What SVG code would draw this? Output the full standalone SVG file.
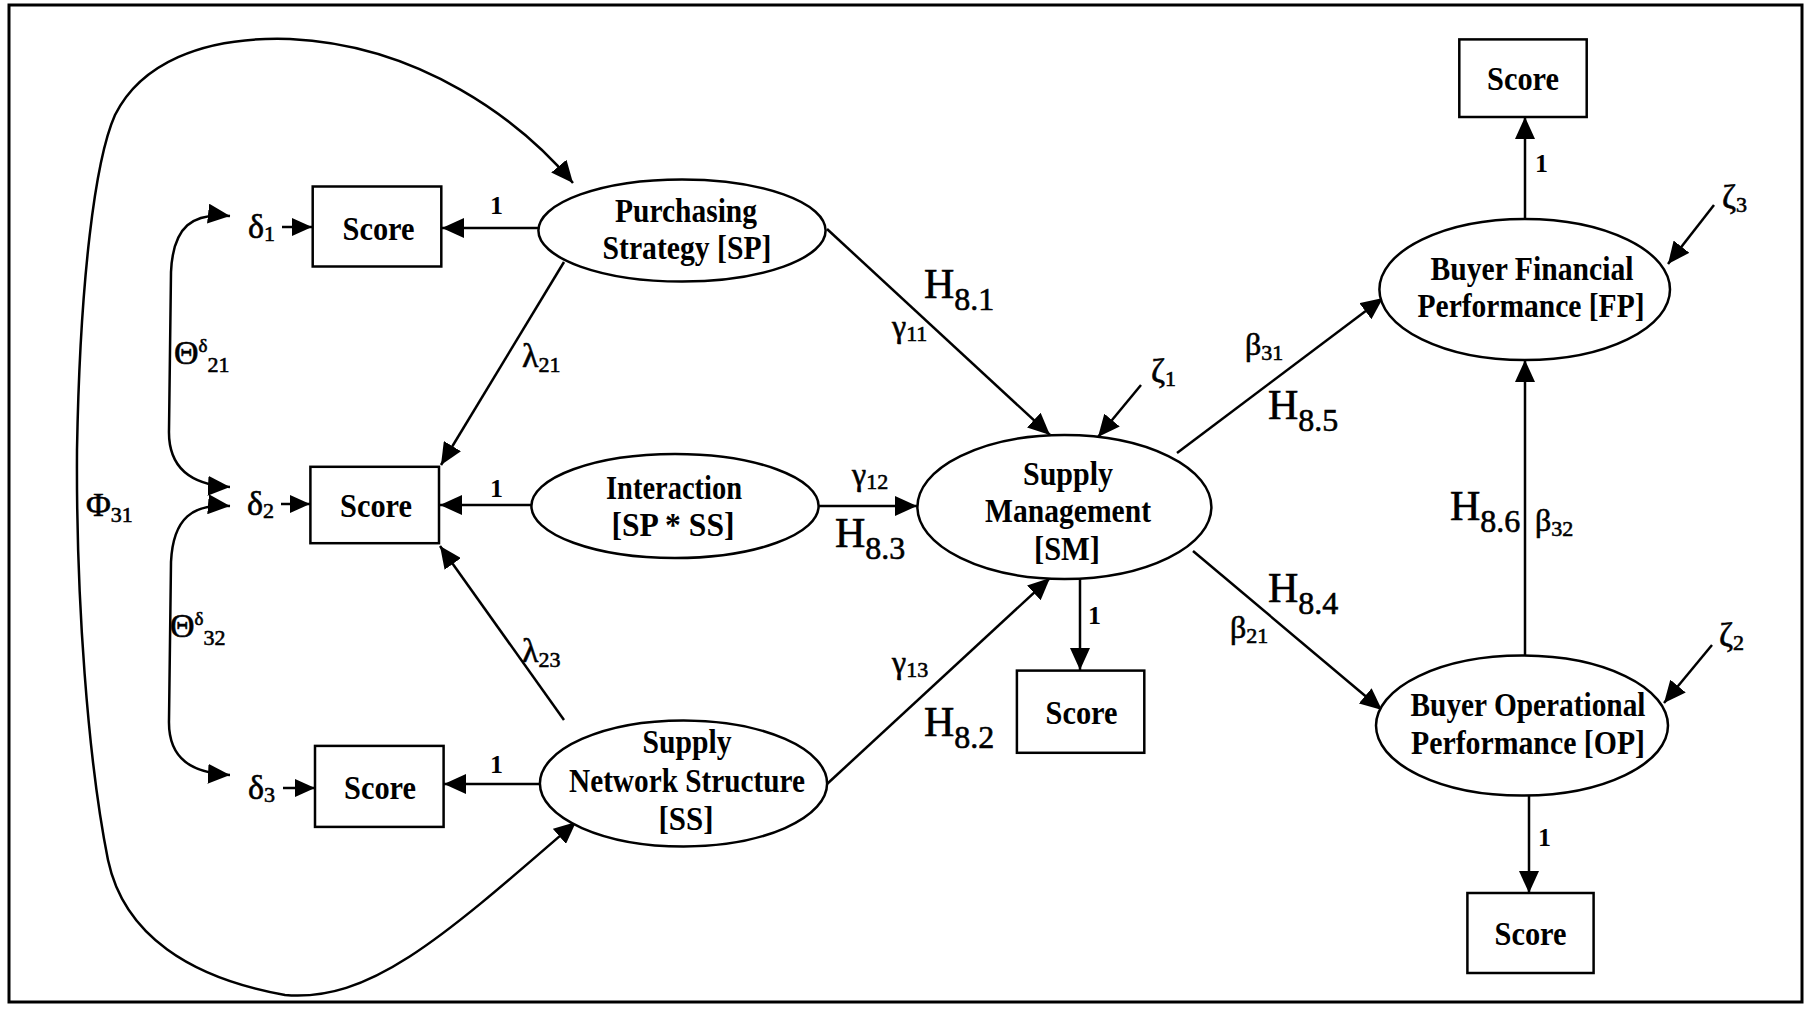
<svg xmlns="http://www.w3.org/2000/svg" width="1816" height="1009" viewBox="0 0 1816 1009">
  <defs>
    <marker id="ah" viewBox="0 0 22 20" refX="22" refY="10" markerWidth="22" markerHeight="20" markerUnits="userSpaceOnUse" orient="auto-start-reverse">
      <path d="M0,0 L22,10 L0,20 z" fill="#000"/>
    </marker>
    <marker id="ahs" viewBox="0 0 20 18" refX="20" refY="9" markerWidth="20" markerHeight="18" markerUnits="userSpaceOnUse" orient="auto-start-reverse">
      <path d="M0,0 L20,9 L0,18 z" fill="#000"/>
    </marker>
  </defs>
  <style>
    .node ellipse, .node rect { fill: #fff; stroke: #000; stroke-width: 2.5; }
    .lbl { font-family: "Liberation Serif", "Times New Roman", serif; font-weight: bold; font-size: 34px; text-anchor: middle; fill: #000; }
    .edge { stroke: #000; stroke-width: 2.5; fill: none; }
    .arr { marker-end: url(#ah); }
    .both { marker-start: url(#ah); marker-end: url(#ah); }
    .sym { font-family: "Liberation Serif", "Times New Roman", serif; font-size: 34px; fill: #000; stroke: #000; stroke-width: 0.6; }
    .sm { font-size: 32px; }
    .sub { font-size: 22px; }
    .sup { font-size: 19px; }
    .h { font-size: 42px; }
    .hsub { font-size: 32px; }
    .one { font-family: "Liberation Serif", "Times New Roman", serif; font-weight: bold; font-size: 26px; fill: #000; }
  </style>

  <rect x="0" y="0" width="1816" height="1009" fill="#fff"/>
  <rect x="9" y="5" width="1793" height="997" fill="none" stroke="#000" stroke-width="3"/>

  <!-- connectors -->
  <g id="connectors">
    <!-- covariance among latent exogenous variables -->
    <path class="edge both" d="M573,183 C520,120 420,45 290,39 C200,36 140,65 115,115 C95,160 80,280 77,450 C76,600 88,760 108,860 C124,935 190,978 285,995 C370,1002 440,940 576,822"/>
    <!-- error covariances -->
    <path class="edge" marker-start="url(#ah)" marker-end="url(#ah)" d="M230,216 C193,212 173,226 171,272 L169,430 C168,470 193,485 230,487"/>
    <path class="edge" marker-start="url(#ah)" marker-end="url(#ah)" d="M230,506 C193,503 173,518 171,562 L169,720 C168,760 193,773 230,775"/>
    <!-- errors into indicators -->
    <line class="edge" marker-end="url(#ahs)" x1="282" y1="227" x2="312" y2="227"/>
    <line class="edge" marker-end="url(#ahs)" x1="281" y1="504" x2="310" y2="504"/>
    <line class="edge" marker-end="url(#ahs)" x1="283" y1="788" x2="315" y2="788"/>
    <!-- loadings -->
    <line class="edge arr" x1="539" y1="228" x2="442" y2="228"/>
    <line class="edge arr" x1="532" y1="505" x2="440" y2="505"/>
    <line class="edge arr" x1="540" y1="784" x2="444" y2="784"/>
    <line class="edge arr" x1="564" y1="262" x2="441" y2="465"/>
    <line class="edge arr" x1="564" y1="720" x2="440" y2="546"/>
    <!-- structural paths -->
    <line class="edge arr" x1="827" y1="229" x2="1050" y2="435"/>
    <line class="edge arr" x1="819" y1="506" x2="917" y2="506"/>
    <line class="edge arr" x1="827" y1="784" x2="1050" y2="578"/>
    <line class="edge arr" x1="1141" y1="385" x2="1098" y2="437"/>
    <line class="edge arr" x1="1080" y1="579" x2="1080" y2="670"/>
    <line class="edge arr" x1="1177" y1="453" x2="1383" y2="298"/>
    <line class="edge arr" x1="1193" y1="551" x2="1382" y2="710"/>
    <line class="edge arr" x1="1525" y1="655" x2="1525" y2="360"/>
    <line class="edge arr" x1="1525" y1="219" x2="1525" y2="117"/>
    <line class="edge arr" x1="1714" y1="205" x2="1668" y2="264"/>
    <line class="edge arr" x1="1712" y1="645" x2="1664" y2="703"/>
    <line class="edge arr" x1="1529" y1="796" x2="1529" y2="893"/>
  </g>

  <!-- connector labels -->
  <g id="labels">
    <text class="sym" x="248" y="238">δ<tspan class="sub" dy="3">1</tspan></text>
    <text class="sym" x="247" y="515">δ<tspan class="sub" dy="3">2</tspan></text>
    <text class="sym" x="248" y="799">δ<tspan class="sub" dy="3">3</tspan></text>
    <text class="sym" x="174" y="364">Θ<tspan class="sup" dy="-12">δ</tspan><tspan class="sub" dy="20">21</tspan></text>
    <text class="sym" x="170" y="637">Θ<tspan class="sup" dy="-12">δ</tspan><tspan class="sub" dy="20">32</tspan></text>
    <text class="sym" x="86" y="516">Φ<tspan class="sub" dy="6">31</tspan></text>

    <text class="one" x="490" y="214">1</text>
    <text class="one" x="490" y="497">1</text>
    <text class="one" x="490" y="773">1</text>
    <text class="one" x="1088" y="624">1</text>
    <text class="one" x="1535" y="172">1</text>
    <text class="one" x="1538" y="846">1</text>

    <text class="sym" x="522" y="367">λ<tspan class="sub" dy="5">21</tspan></text>
    <text class="sym" x="522" y="662">λ<tspan class="sub" dy="5">23</tspan></text>

    <text class="sym sm" x="892" y="337">γ<tspan class="sub" dy="4">11</tspan></text>
    <text class="sym sm" x="852" y="485">γ<tspan class="sub" dy="4">12</tspan></text>
    <text class="sym sm" x="892" y="673">γ<tspan class="sub" dy="4">13</tspan></text>

    <text class="sym h" x="924" y="298">H<tspan class="hsub" dy="12">8.1</tspan></text>
    <text class="sym h" x="835" y="547">H<tspan class="hsub" dy="12">8.3</tspan></text>
    <text class="sym h" x="924" y="736">H<tspan class="hsub" dy="12">8.2</tspan></text>
    <text class="sym h" x="1268" y="419">H<tspan class="hsub" dy="12">8.5</tspan></text>
    <text class="sym h" x="1268" y="602">H<tspan class="hsub" dy="12">8.4</tspan></text>
    <text class="sym h" x="1450" y="520">H<tspan class="hsub" dy="12">8.6</tspan></text>

    <text class="sym" x="1151" y="382">ζ<tspan class="sub" dy="4">1</tspan></text>
    <text class="sym" x="1722" y="208">ζ<tspan class="sub" dy="4">3</tspan></text>
    <text class="sym" x="1719" y="646">ζ<tspan class="sub" dy="4">2</tspan></text>

    <text class="sym sm" x="1245" y="355">β<tspan class="sub" dy="5">31</tspan></text>
    <text class="sym sm" x="1230" y="638">β<tspan class="sub" dy="5">21</tspan></text>
    <text class="sym sm" x="1535" y="531">β<tspan class="sub" dy="5">32</tspan></text>
  </g>

  <!-- latent variables -->
  <g id="sp" class="node">
    <ellipse cx="682" cy="230.5" rx="143.6" ry="51"/>
    <text class="lbl" x="686" y="222" textLength="142" lengthAdjust="spacingAndGlyphs">Purchasing</text>
    <text class="lbl" x="687" y="259" textLength="169" lengthAdjust="spacingAndGlyphs">Strategy [SP]</text>
  </g>
  <g id="interaction" class="node">
    <ellipse cx="675" cy="506" rx="143.6" ry="52"/>
    <text class="lbl" x="674" y="499" textLength="136" lengthAdjust="spacingAndGlyphs">Interaction</text>
    <text class="lbl" x="673" y="536" textLength="123" lengthAdjust="spacingAndGlyphs">[SP * SS]</text>
  </g>
  <g id="ss" class="node">
    <ellipse cx="683.5" cy="783.5" rx="143.6" ry="63"/>
    <text class="lbl" x="687" y="753" textLength="89" lengthAdjust="spacingAndGlyphs">Supply</text>
    <text class="lbl" x="687" y="792" textLength="236" lengthAdjust="spacingAndGlyphs">Network Structure</text>
    <text class="lbl" x="686" y="830" textLength="55" lengthAdjust="spacingAndGlyphs">[SS]</text>
  </g>
  <g id="sm" class="node">
    <ellipse cx="1064.4" cy="507" rx="147" ry="72"/>
    <text class="lbl" x="1068" y="485" textLength="90" lengthAdjust="spacingAndGlyphs">Supply</text>
    <text class="lbl" x="1068" y="522" textLength="166" lengthAdjust="spacingAndGlyphs">Management</text>
    <text class="lbl" x="1067" y="560" textLength="66" lengthAdjust="spacingAndGlyphs">[SM]</text>
  </g>
  <g id="fp" class="node">
    <ellipse cx="1524.7" cy="289.5" rx="145.3" ry="70.6"/>
    <text class="lbl" x="1532" y="280" textLength="203" lengthAdjust="spacingAndGlyphs">Buyer Financial</text>
    <text class="lbl" x="1531" y="317" textLength="227" lengthAdjust="spacingAndGlyphs">Performance [FP]</text>
  </g>
  <g id="op" class="node">
    <ellipse cx="1522" cy="725.6" rx="146" ry="70"/>
    <text class="lbl" x="1528" y="716" textLength="235" lengthAdjust="spacingAndGlyphs">Buyer Operational</text>
    <text class="lbl" x="1528" y="754" textLength="234" lengthAdjust="spacingAndGlyphs">Performance [OP]</text>
  </g>

  <!-- observed scores -->
  <g id="score-sp" class="node">
    <rect x="312.7" y="186.5" width="128.6" height="80"/>
    <text class="lbl" x="378.5" y="239.5" textLength="72" lengthAdjust="spacingAndGlyphs">Score</text>
  </g>
  <g id="score-int" class="node">
    <rect x="310.4" y="466.8" width="128.6" height="76.4"/>
    <text class="lbl" x="376" y="517" textLength="72" lengthAdjust="spacingAndGlyphs">Score</text>
  </g>
  <g id="score-ss" class="node">
    <rect x="315" y="745.9" width="128.6" height="81"/>
    <text class="lbl" x="380" y="799" textLength="72" lengthAdjust="spacingAndGlyphs">Score</text>
  </g>
  <g id="score-sm" class="node">
    <rect x="1016.9" y="670.6" width="127.4" height="82.2"/>
    <text class="lbl" x="1081.5" y="724" textLength="72" lengthAdjust="spacingAndGlyphs">Score</text>
  </g>
  <g id="score-fp" class="node">
    <rect x="1459.3" y="39.4" width="127.4" height="77.6"/>
    <text class="lbl" x="1523" y="90" textLength="72" lengthAdjust="spacingAndGlyphs">Score</text>
  </g>
  <g id="score-op" class="node">
    <rect x="1467.4" y="893" width="126.2" height="80"/>
    <text class="lbl" x="1530.5" y="945" textLength="72" lengthAdjust="spacingAndGlyphs">Score</text>
  </g>
</svg>
